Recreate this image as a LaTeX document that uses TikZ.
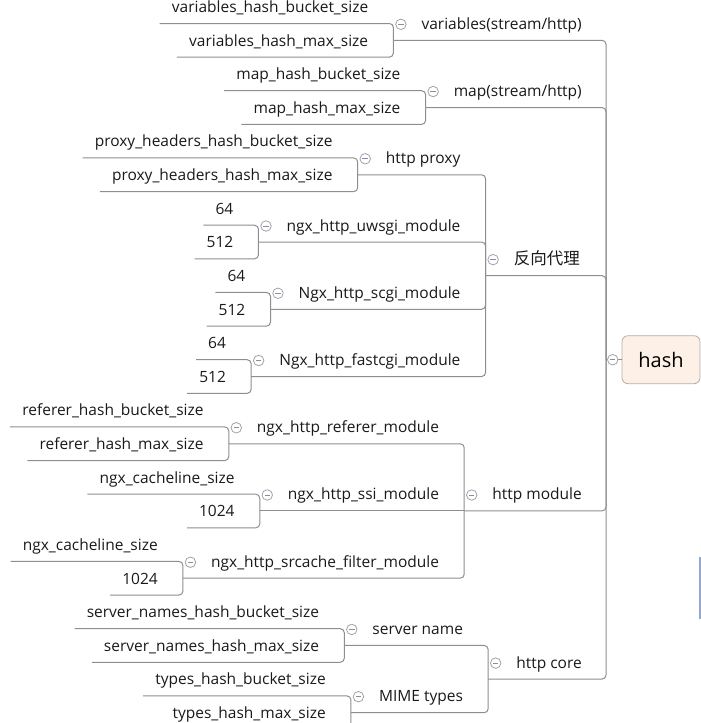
\documentclass[tikz,border=0pt]{standalone}
\usepackage{fontspec}
\setmainfont{Open Sans}
\newfontfamily\cjk{Noto Sans CJK SC}
\usetikzlibrary{calc}
\definecolor{linegray}{HTML}{8E8E8E}
\definecolor{foldgray}{HTML}{A3A3A3}
\definecolor{foldblue}{HTML}{7F90B4}
\definecolor{rootfill}{HTML}{FDF1E7}
\definecolor{rootdraw}{HTML}{B5AEA8}
\definecolor{barblue}{HTML}{96A8CC}
\tikzstyle{topic} = [anchor=base east,inner sep=0pt,text=black!90,font=\fontsize{15.5}{18}\selectfont]
\tikzstyle{leaf} = [topic]
\tikzstyle{link} = [draw=linegray,line width=1pt,rounded corners=4pt]
\tikzstyle{fold} = [circle,draw=foldgray,fill=white,line width=0.8pt,inner sep=0pt,minimum size=10.5pt]
\tikzstyle{rootbox} = [draw=rootdraw,fill=rootfill,line width=0.8pt,rounded corners=6pt,minimum width=78pt,minimum height=48pt,font=\fontsize{20}{24}\selectfont]
\newcommand{\ry}[1]{23.5+33.62*#1}
\newcommand{\foldmark}{\textcolor{foldblue}{\rule{5.5pt}{0.8pt}}}

\begin{document}
\begin{tikzpicture}[x=1pt,y=-1pt]
  \useasboundingbox (0,0) rectangle (701,723);
  \clip (0,0) rectangle (701,723);
  % Root topic
  \node[rootbox] (hash) at (661,{\ry{10}}) {hash};
  \coordinate (tr) at (606,{\ry{10}});
  % First level, right edge on the trunk
  \node[topic] (var) at (582,{\ry{0.5}-11}) {variables(stream/http)};
  \node[topic] (map) at (582,{\ry{2.5}-11}) {map(stream/http)};
  \node[topic] (fx) at (580,{\ry{7.5}-11}) {\cjk\fontsize{16.5}{18}\selectfont 反向代理};
  \node[topic] (hm) at (582,{\ry{14.5}-11}) {http module};
  \node[topic] (hc) at (582,{\ry{19.5}-11}) {http core};
  \foreach \p in {var,map,fx,hm,hc} {
    \coordinate (\p-l) at ($(\p.base west)+(-28,11)$);
    \draw[link] (tr) |- (\p-l);
  }
  \draw[link] (tr) -- (hash.west);
  % Second level
  \foreach \p/\q/\d/\t in {fx/prx/-3/http proxy,fx/uws/-1/ngx\_http\_uwsgi\_module,
      fx/scg/1/Ngx\_http\_scgi\_module,fx/fcg/3/Ngx\_http\_fastcgi\_module,
      hm/ref/-2/ngx\_http\_referer\_module,hm/ssi/0/ngx\_http\_ssi\_module,
      hm/src/2/ngx\_http\_srcache\_filter\_module,
      hc/srv/-1/server name,hc/mime/1/MIME types} {
    \node[topic] (\q) at ($(\p-l)+(-25,{33.62*\d-11})$) {\t};
    \coordinate (\q-l) at ($(\q.base west)+(-28,11)$);
  }
  \foreach \p/\q in {fx/prx,fx/uws,fx/scg,fx/fcg,hm/ref,hm/src,hc/srv,hc/mime}
    \draw[link] (\p-l) |- (\q-l);
  \draw[link] (hm-l) -- (ssi-l);
  % Leaves, two under each topic
  \foreach \p/\a/\b in {var/variables\_hash\_bucket\_size/variables\_hash\_max\_size,
      map/map\_hash\_bucket\_size/map\_hash\_max\_size,
      prx/proxy\_headers\_hash\_bucket\_size/proxy\_headers\_hash\_max\_size,
      uws/64/512,scg/64/512,fcg/64/512,
      ref/referer\_hash\_bucket\_size/referer\_hash\_max\_size,
      ssi/ngx\_cacheline\_size/1024,src/ngx\_cacheline\_size/1024,
      srv/server\_names\_hash\_bucket\_size/server\_names\_hash\_max\_size,
      mime/types\_hash\_bucket\_size/types\_hash\_max\_size} {
    \node[leaf] (\p-a) at ($(\p-l)+(-25,-27.81)$) {\a};
    \node[leaf] (\p-b) at ($(\p-l)+(-25,5.81)$) {\b};
    \coordinate (\p-al) at ($(\p-a.base west)+(-12,11)$);
    \coordinate (\p-bl) at ($(\p-b.base west)+(-12,11)$);
    \draw[link] (\p-l) |- (\p-al);
    \draw[link] (\p-l) |- (\p-bl);
  }
  % Collapse buttons
  \foreach \p in {var,map,fx,hm,hc,prx,uws,scg,fcg,ref,ssi,src,srv,mime}
    \node[fold] (\p-f) at ($(\p-l)+(7.5,-16)$) {\foldmark};
  \node[fold] (hash-f) at ($(tr)!0.43!(hash.west)$) {\foldmark};
  % scroll mark at the right edge
  \draw[barblue,line width=1.2pt] (700,557) -- (700,619);
\end{tikzpicture}
\end{document}
